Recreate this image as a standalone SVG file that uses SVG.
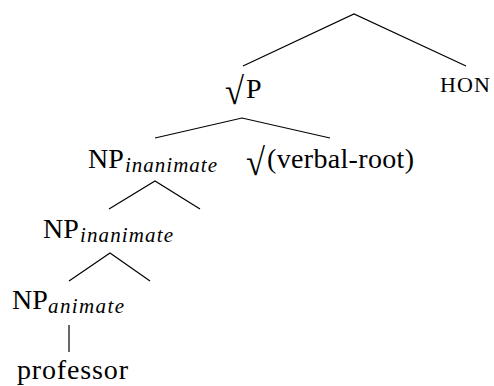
<svg xmlns="http://www.w3.org/2000/svg" width="494" height="386" viewBox="0 0 494 386" font-family="'Liberation Serif', 'DejaVu Serif', serif">
<style>
.m{font-size:28px}
.rad{font-size:38px}
.sub{font-size:21px;font-style:italic}
.sc{font-size:22px}
.e{stroke:#000;stroke-width:1.2;fill:none}
</style>
<rect width="494" height="386" fill="#fff"/>
<g id="edges">
<path class="e" d="M243,66 L354,14 L466,66"/>
<path class="e" d="M155,138 L242,118 L330,138"/>
<path class="e" d="M109,209 L155,181 L200,209"/>
<path class="e" d="M69,281 L110,253 L150,281"/>
<path class="e" d="M69,325 L69,352"/>
</g>
<g id="rootP"><text class="rad" font-family="Liberation Serif, serif" x="225" y="104" textLength="19" lengthAdjust="spacingAndGlyphs">√</text><text class="m" font-family="Liberation Serif, serif" x="246" y="98">P</text></g>
<g id="hon"><text class="sc" font-family="Liberation Serif, serif" x="440" y="92" textLength="50">HON</text></g>
<g id="np1"><text class="m" font-family="Liberation Serif, serif" x="88" y="168">NP</text><text class="sub" font-family="Liberation Serif, serif" x="125" y="172" textLength="92" lengthAdjust="spacing">inanimate</text></g>
<g id="verbalroot"><text class="rad" font-family="Liberation Serif, serif" x="246" y="175" textLength="19" lengthAdjust="spacingAndGlyphs">√</text><text class="m" font-family="Liberation Serif, serif" x="267" y="168" textLength="147">(verbal-root)</text></g>
<g id="np2"><text class="m" font-family="Liberation Serif, serif" x="43" y="238">NP</text><text class="sub" font-family="Liberation Serif, serif" x="80" y="242" textLength="93" lengthAdjust="spacing">inanimate</text></g>
<g id="np3"><text class="m" font-family="Liberation Serif, serif" x="12" y="309">NP</text><text class="sub" font-family="Liberation Serif, serif" x="48" y="313" textLength="76" lengthAdjust="spacing">animate</text></g>
<g id="professor"><text class="m" font-family="Liberation Serif, serif" x="17" y="379" textLength="111">professor</text></g>
</svg>
